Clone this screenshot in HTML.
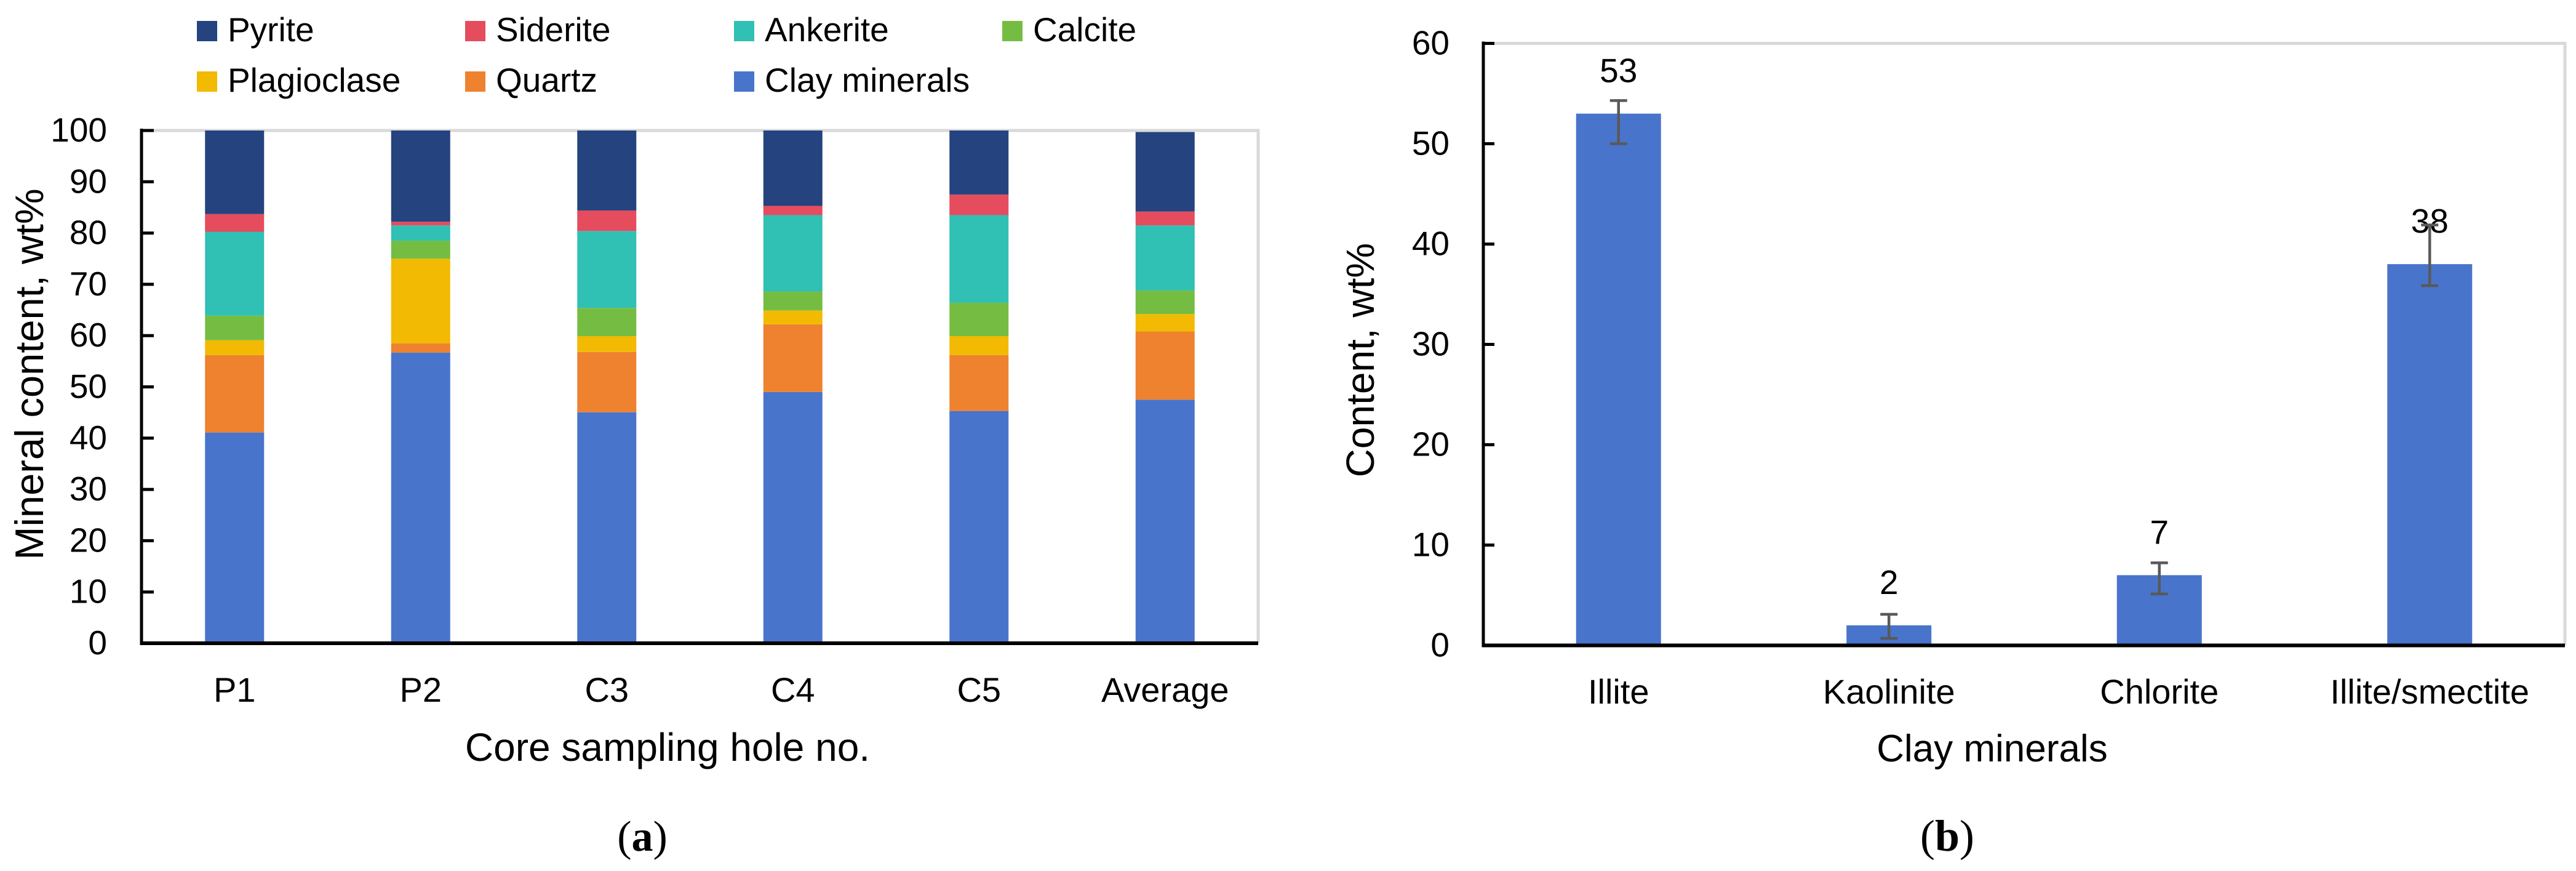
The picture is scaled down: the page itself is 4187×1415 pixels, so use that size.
<!DOCTYPE html>
<html lang="en">
<head>
<meta charset="utf-8">
<title>Mineral content and clay minerals</title>
<style>
html,body{margin:0;padding:0;background:#fff;width:4187px;height:1415px;overflow:hidden}
svg{display:block;position:absolute;left:0;top:0}
text{font-family:"Liberation Sans",sans-serif;fill:#000}
.serif{font-family:"Liberation Serif",serif}
</style>
</head>
<body>
<svg id="fig" xmlns="http://www.w3.org/2000/svg" width="4187" height="1415" viewBox="0 0 4187 1415"></svg>
<script>
// Chart (a) data
const categoriesA = ['P1', 'P2', 'C3', 'C4', 'C5', 'Average'];
const ticksA = [0, 10, 20, 30, 40, 50, 60, 70, 80, 90, 100];
const clayMinerals = [41.1, 56.7, 45.05, 49.0, 45.3, 47.5];
const quartz = [15.1, 1.8, 11.75, 13.2, 10.9, 13.3];
const plagioclase = [2.9, 16.5, 3.1, 2.7, 3.7, 3.4];
const calcite = [4.8, 3.5, 5.5, 3.7, 6.5, 4.6];
const ankerite = [16.35, 3.0, 15.0, 14.9, 17.1, 12.7];
const siderite = [3.45, 0.7, 4.0, 1.8, 4.0, 2.7];
const pyrite = [16.3, 17.8, 15.6, 14.7, 12.5, 15.5];
// Chart (b) data
const categoriesB = ['Illite', 'Kaolinite', 'Chlorite', 'Illite/smectite'];
const ticksB = [0, 10, 20, 30, 40, 50, 60];
const contentB = [53, 2, 7, 38];
const errorUpB = [1.3, 1.1, 1.23, 3.9];
const errorDownB = [3.0, 1.3, 1.87, 2.15];

const NS = 'http://www.w3.org/2000/svg';
const svg = document.getElementById('fig');
const make = (tag, attrs, txt) => {
  const n = document.createElementNS(NS, tag);
  for (const k in attrs) n.setAttribute(k, attrs[k]);
  if (txt !== undefined) n.textContent = txt;
  svg.appendChild(n);
  return n;
};

// Axis functions
const A = {left: 230, right: 2045, top: 212, bottom: 1045, max: 100};
const B = {left: 2411, right: 4169, top: 70.5, bottom: 1048.5, max: 60};
const xA = i => A.left + (A.right - A.left) * (i + 0.5) / categoriesA.length;
const yA = v => A.bottom - (A.bottom - A.top) * v / A.max;
const xB = i => B.left + (B.right - B.left) * (i + 0.5) / categoriesB.length;
const yB = v => B.bottom - (B.bottom - B.top) * v / B.max;

const seriesA = [
  {name: 'clay-minerals', values: clayMinerals, color: '#4874CB'},
  {name: 'quartz', values: quartz, color: '#EE822F'},
  {name: 'plagioclase', values: plagioclase, color: '#F2BA02'},
  {name: 'calcite', values: calcite, color: '#75BD42'},
  {name: 'ankerite', values: ankerite, color: '#30C0B4'},
  {name: 'siderite', values: siderite, color: '#E54C5E'},
  {name: 'pyrite', values: pyrite, color: '#24437F'}
];

// Plot frames (a)
let e = make('path', {d: `M${A.left} ${A.top}H${A.right}V${A.bottom}`, fill: 'none', stroke: '#d9d9d9', 'stroke-width': 5});



// Stacked bars (a)
categoriesA.forEach((c, i) => {
  let base = 0;
  seriesA.forEach(s => {
    const v = s.values[i];
    const r = make('rect', {x: xA(i) - 48, y: yA(base + v), width: 96, height: yA(base) - yA(base + v), fill: s.color});
    
    
    base += v;
  });
});

// Axes (a)
e = make('line', {x1: A.left, x2: A.left, y1: A.top - 3, y2: A.bottom + 3, stroke: '#000', 'stroke-width': 5});


e = make('line', {x1: A.left - 2, x2: A.right, y1: A.bottom, y2: A.bottom, stroke: '#000', 'stroke-width': 6});


ticksA.forEach(t => {
  const m = make('line', {x1: A.left, x2: A.left + 20, y1: yA(t), y2: yA(t), stroke: '#000', 'stroke-width': 5});
  
  
  const l = make('text', {x: 174, y: yA(t) + 18, 'text-anchor': 'end', 'font-size': 55}, String(t));
  
  
});
categoriesA.forEach((c, i) => {
  const l = make('text', {x: xA(i), y: 1140, 'text-anchor': 'middle', 'font-size': 56}, c);
  
  
});

// Titles (a)
e = make('text', {transform: 'translate(70 608) rotate(-90)', 'text-anchor': 'middle', 'font-size': 65}, 'Mineral content, wt%');


e = make('text', {x: 1085, y: 1236, 'text-anchor': 'middle', 'font-size': 64}, 'Core sampling hole no.');



// Legend (a)
const legendEntries = ['Pyrite', 'Siderite', 'Ankerite', 'Calcite', 'Plagioclase', 'Quartz', 'Clay minerals'];
const legendColors = ['#24437F', '#E54C5E', '#30C0B4', '#75BD42', '#F2BA02', '#EE822F', '#4874CB'];
const legendColumns = [320, 756, 1193, 1629];
const legendRows = [67, 149];
legendEntries.forEach((name, i) => {
  const lx = legendColumns[i % 4];
  const ly = legendRows[Math.floor(i / 4)];
  const sw = make('rect', {x: lx, y: ly - 33, width: 33, height: 33, fill: legendColors[i]});
  
  
  const tx = make('text', {x: lx + 50, y: ly, 'font-size': 55}, name);
  
  
});

// Plot frame (b)
e = make('path', {d: `M${B.left} ${B.top}H${B.right}V${B.bottom}`, fill: 'none', stroke: '#d9d9d9', 'stroke-width': 5});



// Bars (b)
categoriesB.forEach((c, i) => {
  const r = make('rect', {x: xB(i) - 69, y: yB(contentB[i]), width: 138, height: yB(0) - yB(contentB[i]), fill: '#4874CB'});
  
  
});

// Value labels (b)
categoriesB.forEach((c, i) => {
  const l = make('text', {x: xB(i), y: yB(contentB[i]) - 51, 'text-anchor': 'middle', 'font-size': 55}, String(contentB[i]));
  
  
});

// Error bars (b)
categoriesB.forEach((c, i) => {
  const hi = yB(contentB[i] + errorUpB[i]);
  const lo = yB(contentB[i] - errorDownB[i]);
  const x = xB(i);
  const p = make('path', {d: `M${x} ${hi}V${lo}M${x - 14} ${hi}H${x + 14}M${x - 14} ${lo}H${x + 14}`, fill: 'none', stroke: '#595959', 'stroke-width': 4.5});
  
  
});

// Axes (b)
e = make('line', {x1: B.left, x2: B.left, y1: B.top - 3, y2: B.bottom + 3, stroke: '#000', 'stroke-width': 5});


e = make('line', {x1: B.left - 2, x2: B.right, y1: B.bottom, y2: B.bottom, stroke: '#000', 'stroke-width': 6});


ticksB.forEach(t => {
  const m = make('line', {x1: B.left, x2: B.left + 18, y1: yB(t), y2: yB(t), stroke: '#000', 'stroke-width': 5});
  
  
  const l = make('text', {x: 2356, y: yB(t) + 18, 'text-anchor': 'end', 'font-size': 55}, String(t));
  
  
});
categoriesB.forEach((c, i) => {
  const l = make('text', {x: xB(i), y: 1143, 'text-anchor': 'middle', 'font-size': 56}, c);
  
  
});

// Titles (b)
e = make('text', {transform: 'translate(2233 585) rotate(-90)', 'text-anchor': 'middle', 'font-size': 64}, 'Content, wt%');


e = make('text', {x: 3238, y: 1237, 'text-anchor': 'middle', 'font-size': 62}, 'Clay minerals');



// Panel captions
e = make('text', {x: 1044, y: 1382, 'text-anchor': 'middle', 'font-size': 70, class: 'serif'});


e.innerHTML = '(<tspan font-weight="bold">a</tspan>)';
e = make('text', {x: 3165, y: 1382, 'text-anchor': 'middle', 'font-size': 72, class: 'serif'});


e.innerHTML = '(<tspan font-weight="bold">b</tspan>)';
</script>
</body>
</html>
